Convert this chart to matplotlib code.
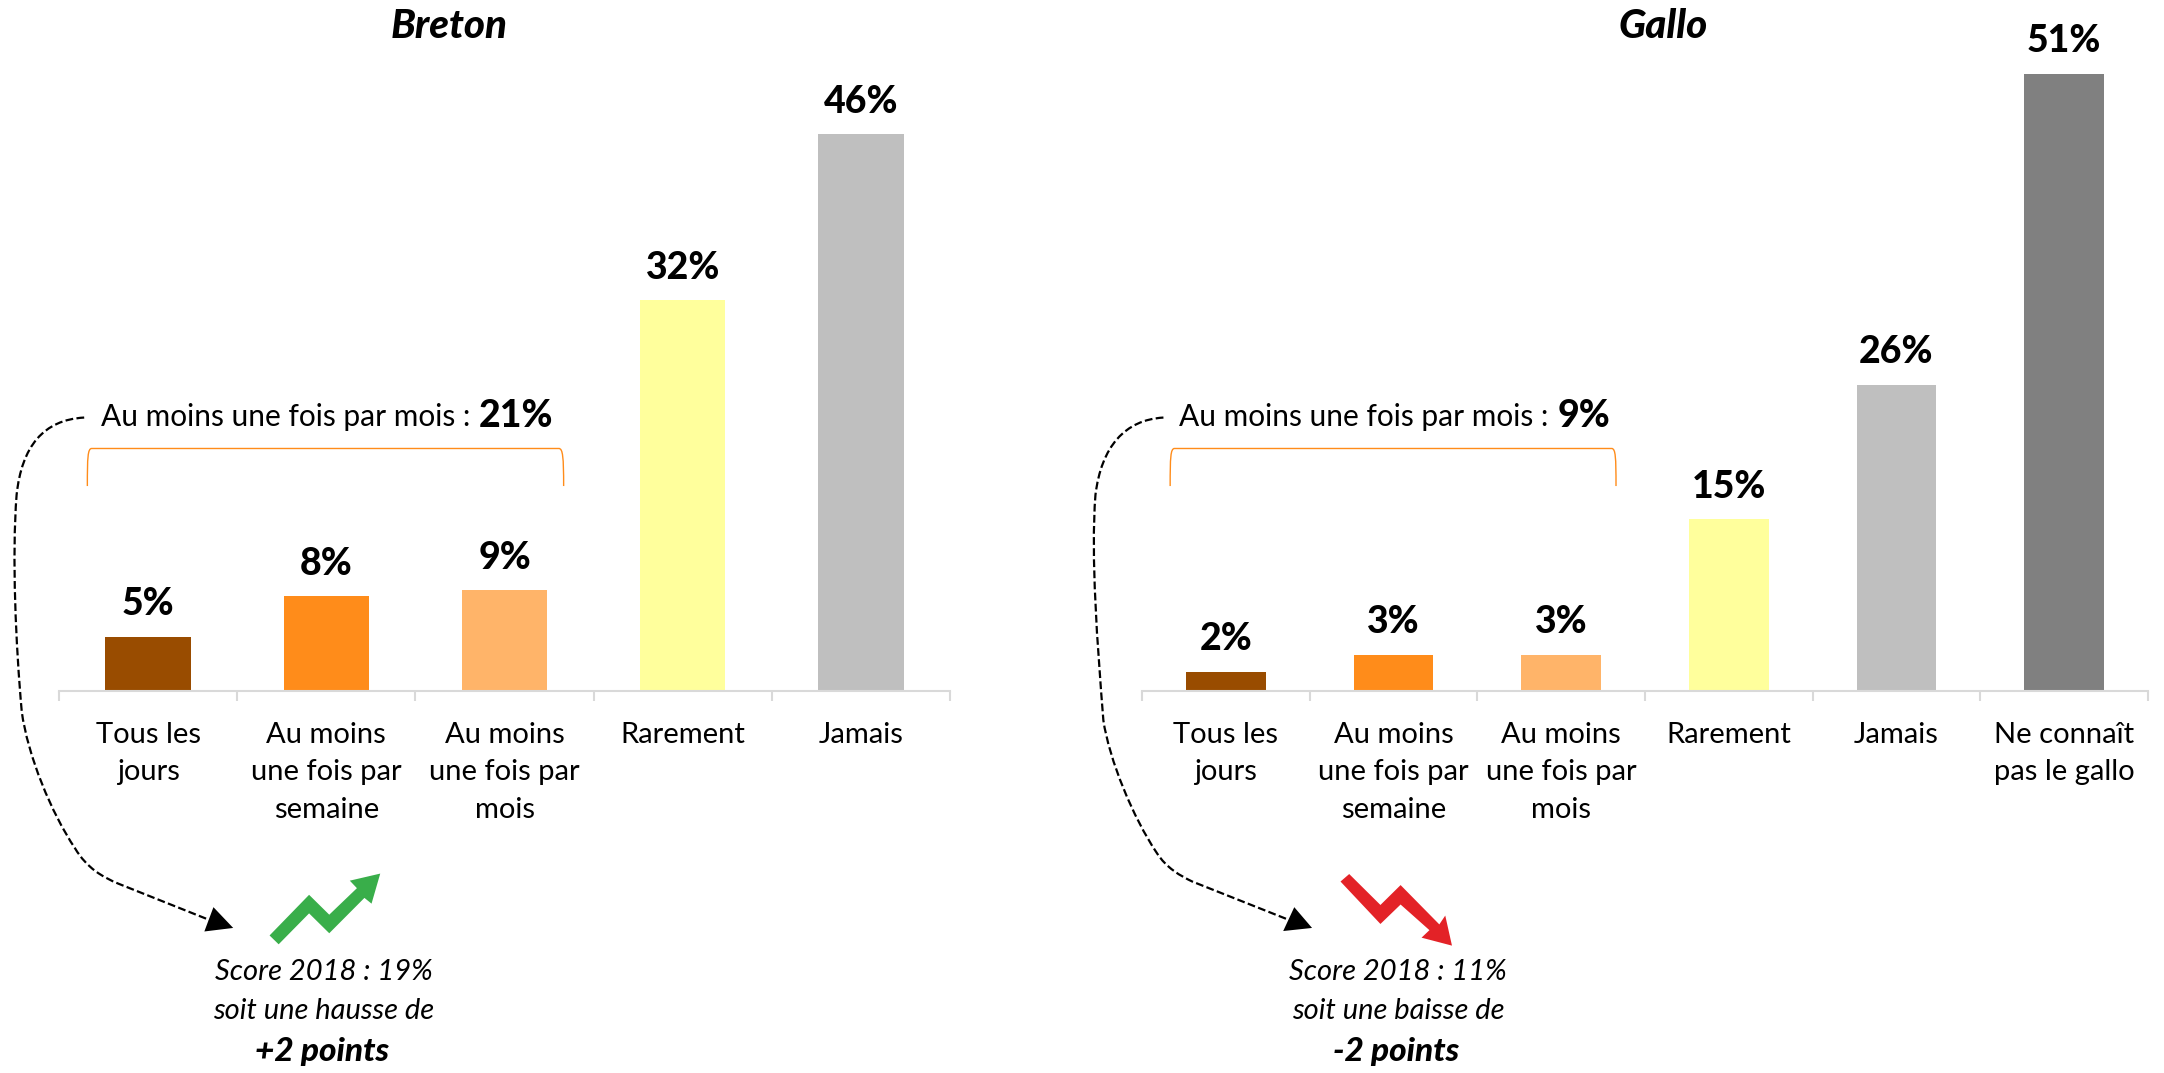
import matplotlib
matplotlib.use('Agg')
import matplotlib.pyplot as plt
from matplotlib.patches import PathPatch, Polygon
from matplotlib.path import Path

plt.rcParams['font.family'] = ['Lato', 'DejaVu Sans']

W, H = 2164, 1073

breton_cats = ['Tous les\njours', 'Au moins\nune fois par\nsemaine', 'Au moins\nune fois par\nmois',
               'Rarement', 'Jamais']
breton_vals = [4.5, 7.85, 8.35, 32.3, 46.0]
breton_labels = ['5%', '8%', '9%', '32%', '46%']
gallo_cats = ['Tous les\njours', 'Au moins\nune fois par\nsemaine', 'Au moins\nune fois par\nmois',
              'Rarement', 'Jamais', 'Ne connaît\npas le gallo']
gallo_vals = [1.6, 3.0, 3.0, 14.2, 25.3, 51.0]
gallo_labels = ['2%', '3%', '3%', '15%', '26%', '51%']
colors = ['#994C00', '#FF8C1A', '#FFB469', '#FFFF9C', '#BFBFBF', '#808080']

fig = plt.figure(figsize=(W / 100, H / 100), dpi=100)


def panel(x0, x1, cats, vals, labels, width):
    ax = fig.add_axes([x0 / W, 1 - 691 / H, (x1 - x0) / W, 690 / H])
    n = len(cats)
    ax.bar(range(n), vals, width=width, color=colors[:n])
    ax.set_xlim(-0.5, n - 0.5)
    ax.set_ylim(0, 57)
    ax.set_yticks([])
    for s in ['top', 'left', 'right']:
        ax.spines[s].set_visible(False)
    ax.spines['bottom'].set_color('#D9D9D9')
    ax.spines['bottom'].set_linewidth(1.5)
    ax.set_xticks(range(n))
    ax.set_xticklabels(cats, fontsize=21, linespacing=1.55, color='black')
    ax.set_xticks([i - 0.5 for i in range(n + 1)], minor=True)
    ax.tick_params(axis='x', which='major', length=0, pad=22)
    ax.tick_params(axis='x', which='minor', length=7, width=1.5, color='#D9D9D9')
    for i, (v, lab) in enumerate(zip(vals, labels)):
        ax.annotate(lab, (i, v), xytext=(0, 11), textcoords='offset points', ha='center', va='bottom',
                    fontsize=27, fontweight=900, annotation_clip=False)
    return ax


panel(59, 950, breton_cats, breton_vals, breton_labels, 0.48)
panel(1142, 2148, gallo_cats, gallo_vals, gallo_labels, 0.477)

# overlay in reference pixels for the annotations
ov = fig.add_axes([0, 0, 1, 1], facecolor='none')
ov.set_xlim(0, W)
ov.set_ylim(H, 0)
ov.axis('off')


def z(pts, xoff):
    return [(xoff + x / 2.53, 380 + y / 2.263) for x, y in pts]


def curve(pts, xoff, **kw):
    codes = [Path.MOVETO] + [Path.CURVE4] * 12 + [Path.LINETO]
    ov.add_patch(PathPatch(Path(z(pts, xoff), codes), fill=False, **kw))


curve([(213, 85), (110, 90), (55, 150), (42, 260), (30, 400), (40, 600), (55, 750),
       (70, 850), (130, 980), (190, 1060), (220, 1105), (260, 1125), (300, 1140), (530, 1222)],
      0, ec='black', lw=1.6, ls=(0, (3.5, 1.5)))
curve([(287, 85), (190, 90), (130, 150), (115, 260), (103, 400), (120, 600), (135, 770),
       (150, 860), (210, 990), (270, 1070), (295, 1105), (330, 1122), (360, 1135), (605, 1222)],
      1050, ec='black', lw=1.6, ls=(0, (3.5, 1.5)))
ov.add_patch(Polygon(z([(590, 1240), (540, 1193), (517, 1248)], 0), fc='black', ec='none'))
ov.add_patch(Polygon(z([(663, 1240), (618, 1193), (590, 1247)], 1050), fc='black', ec='none'))

# brackets
for pts, xoff in [([(221, 240), (221, 175), (222, 155), (232, 155), (1414, 155), (1424, 155), (1426, 175), (1426, 240)], 0),
                  ([(304, 240), (304, 175), (305, 155), (315, 155), (1421, 155), (1431, 155), (1432, 175), (1432, 240)], 1050)]:
    codes = [Path.MOVETO, Path.CURVE4, Path.CURVE4, Path.CURVE4, Path.LINETO, Path.CURVE4, Path.CURVE4, Path.CURVE4]
    ov.add_patch(PathPatch(Path(z(pts, xoff), codes), fill=False, ec='#FF8C1A', lw=1))

# trend arrows
ov.add_patch(Polygon(z([(682, 1257), (782, 1165), (833, 1210), (903, 1150), (885, 1133), (962, 1117),
                        (940, 1185), (922, 1172), (833, 1252), (782, 1207), (705, 1277)], 0), fc='#39AE4A', ec='none'))
ov.add_patch(Polygon(z([(735, 1135), (757, 1118), (836, 1188), (887, 1143), (985, 1232), (1000, 1212),
                        (1017, 1280), (940, 1262), (960, 1245), (887, 1187), (836, 1231)], 1050), fc='#E32227', ec='none'))

ov.text(449, 26, 'Breton', ha='center', va='center', fontsize=29, fontweight=900, fontstyle='italic')
ov.text(1663, 26, 'Gallo', ha='center', va='center', fontsize=29, fontweight=900, fontstyle='italic')

ov.text(470, 417, 'Au moins une fois par mois :', ha='right', va='center', fontsize=21.5)
ov.text(479, 416, '21%', ha='left', va='center', fontsize=27, fontweight=900)
ov.text(1548, 417, 'Au moins une fois par mois :', ha='right', va='center', fontsize=21.5)
ov.text(1558, 416, '9%', ha='left', va='center', fontsize=27, fontweight=900)

for cx, l1, l2, l3 in [(324, 'Score 2018 : 19%', 'soit une hausse de', '+2 points'),
                       (1398, 'Score 2018 : 11%', 'soit une baisse de', '-2 points')]:
    ov.text(cx, 972, l1, ha='center', va='center', fontsize=21, fontstyle='italic')
    ov.text(cx, 1011, l2, ha='center', va='center', fontsize=21, fontstyle='italic')
    ov.text(cx - 2, 1051, l3, ha='center', va='center', fontsize=24, fontstyle='italic', fontweight=900)

fig.savefig('out.png', dpi=100)
